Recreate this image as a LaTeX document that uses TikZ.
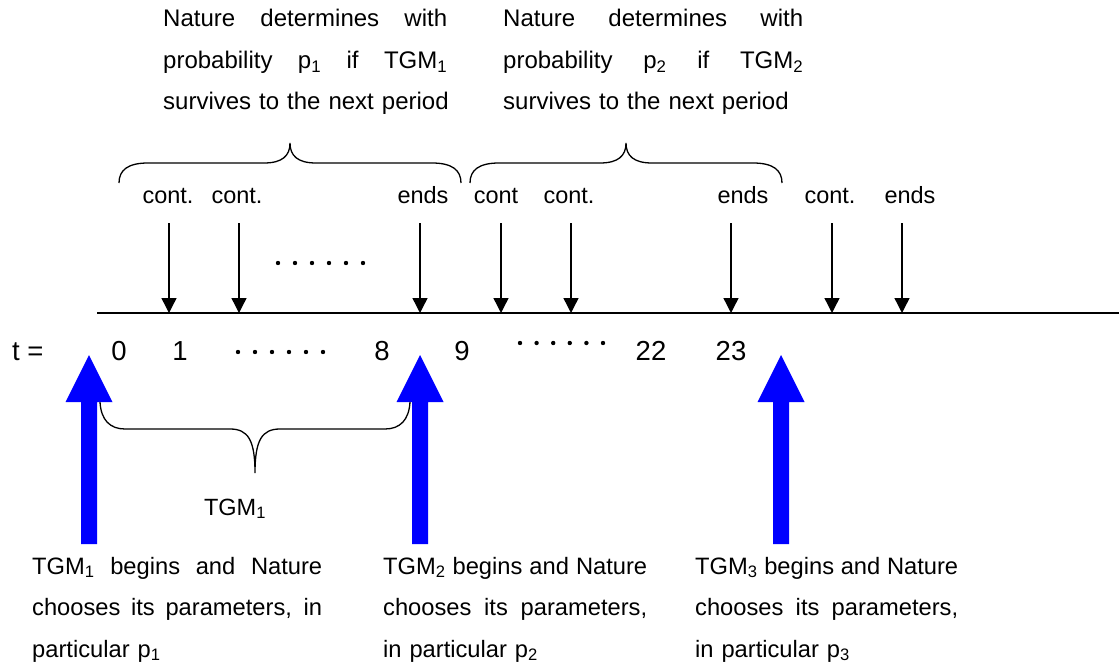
\documentclass[tikz,border=0pt]{standalone}
\usepackage{fontspec}
\setmainfont{Liberation Sans}
\usetikzlibrary{arrows.meta}

% one justified line of a text block: width, text
\newcommand{\fullline}[2]{\makebox[#1][s]{\spaceskip=0pt\xspaceskip=0pt #2}}

\begin{document}
\begin{tikzpicture}[x=1pt,y=-1pt,
  lbl/.style={font=\fontsize{23.5}{28}\selectfont, inner sep=0pt, anchor=base},
  num/.style={font=\fontsize{27.5}{32}\selectfont, inner sep=0pt, anchor=base},
  toppara/.style={font=\fontsize{24}{41.5}\selectfont, inner sep=0pt,
    anchor=base west, align=left, text width=330pt},
  botpara/.style={font=\fontsize{23.7}{41.5}\selectfont, inner sep=0pt,
    anchor=base west, align=left, text width=300pt},
  tick/.style={line width=1.4pt, -{Triangle[length=15pt,width=15pt]}},
  axisline/.style={line width=1.8pt},
  brace/.style={line width=1.3pt},
  bigarrow/.style={fill=blue},
  dot/.style={fill=black}
]
\useasboundingbox (0,0) rectangle (1119,666);

% time axis
\coordinate (axL) at (97,313);
\coordinate (axR) at (1119,313);
\draw[axisline] (axL) -- (axR);

% event labels above the axis
\node[lbl] (c1) at (168,203) {cont.};
\node[lbl] (c2) at (237,203) {cont.};
\node[lbl] (e1) at (423,203) {ends};
\node[lbl] (c3) at (496,203) {cont};
\node[lbl] (c4) at (569,203) {cont.};
\node[lbl] (e2) at (743,203) {ends};
\node[lbl] (c5) at (830,203) {cont.};
\node[lbl] (e3) at (910,203) {ends};

% event arrows onto the axis
\foreach \n/\x in {a1/169,a2/239,a3/420,a4/501,a5/571,a6/731,a7/832,a8/902}{
  \coordinate (\n top) at (\x,223);
  \coordinate (\n bot) at (\x,313);
  \draw[tick] (\n top) -- (\n bot);
}

% dots between the arrows
\foreach \i in {0,...,5} \fill[dot] (278+17*\i,263) circle (2.2pt);

% braces over the two periods
\draw[brace] (119,183) .. controls (119,170) and (128,163) .. (148,163)
  -- (264,163) .. controls (282,163) and (290,156) .. (290,143)
  .. controls (290,156) and (298,163) .. (316,163)
  -- (432,163) .. controls (452,163) and (461,170) .. (461,183);
\draw[brace] (470,183) .. controls (470,170) and (479,163) .. (499,163)
  -- (600,163) .. controls (618,163) and (626,156) .. (626,143)
  .. controls (626,156) and (634,163) .. (652,163)
  -- (753,163) .. controls (773,163) and (782,170) .. (782,183);

% texts over the braces
\node[toppara] (n1) at (163,27) {%
  \fullline{284pt}{Nature determines with}\\
  \fullline{284pt}{probability p\textsubscript{1} if TGM\textsubscript{1}}\\
  survives to the next period};
\node[toppara] (n2) at (503,27) {%
  \fullline{300pt}{Nature determines with}\\
  \fullline{300pt}{probability p\textsubscript{2} if TGM\textsubscript{2}}\\
  survives to the next period};

% period numbers
\node[num, anchor=base west] (tt) at (12,360) {t =};
\node[num] (t0) at (119,360) {0};
\node[num] (t1) at (180,360) {1};
\node[num] (t8) at (382,360) {8};
\node[num] (t9) at (462,360) {9};
\node[num] (t22) at (651,360) {22};
\node[num] (t23) at (731,360) {23};
\foreach \i in {0,...,5} \fill[dot] (238+17*\i,352) circle (2.2pt);
\foreach \i in {0,...,5} \fill[dot] (520+16.6*\i,343) circle (2.2pt);

% big blue arrows where a new TGM begins
\foreach \n/\c in {b1/89,b2/420,b3/781}{
  \coordinate (\n tip) at (\c,355);
  \fill[bigarrow] (\c-8,544) -- (\c-8,402) -- (\c-23.5,402) -- (\n tip)
    -- (\c+23.5,402) -- (\c+8,402) -- (\c+8,544) -- cycle;
}

% brace under the first TGM
\draw[brace] (100,402) .. controls (101,420) and (110,429) .. (125,429)
  -- (230,429) .. controls (248,429) and (255,440) .. (255,473)
  .. controls (255,440) and (262,429) .. (280,429)
  -- (385,429) .. controls (400,429) and (409,420) .. (410,402);
\node[lbl] (g1) at (235,515) {TGM\textsubscript{1}};

% texts under the blue arrows
\node[botpara] (s1) at (32,574) {%
  \fullline{290pt}{TGM\textsubscript{1} begins and Nature}\\
  \fullline{290pt}{chooses its parameters, in}\\
  particular p\textsubscript{1}};
\node[botpara] (s2) at (383,574) {%
  \fullline{264pt}{TGM\textsubscript{2} begins and Nature}\\
  \fullline{264pt}{chooses its parameters,}\\
  in particular p\textsubscript{2}};
\node[botpara] (s3) at (695,574) {%
  \fullline{263pt}{TGM\textsubscript{3} begins and Nature}\\
  \fullline{263pt}{chooses its parameters,}\\
  in particular p\textsubscript{3}};
\end{tikzpicture}
\end{document}
